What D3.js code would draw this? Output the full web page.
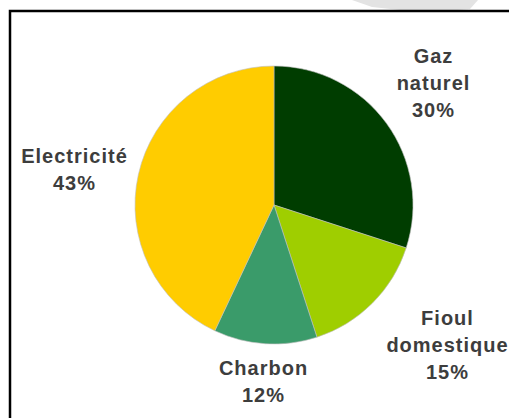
<!DOCTYPE html>
<html>
<head>
<meta charset="utf-8">
<script src="https://cdn.jsdelivr.net/npm/d3@7"></script>
<style>
body{margin:0;background:#fff;}
svg{display:block;}
</style>
</head>
<body>
<svg id="chart" width="509" height="418"></svg>
<script>
// energy mix, clockwise from 12 o'clock
var categories = ["Gaz naturel","Fioul domestique","Charbon","Electricité"];
var values = [30,15,12,43];
var colors = ["#003d00","#9fce00","#3a9b6a","#ffcc00"];
// label lines and where they sit (centre x, first baseline)
var labelLines = [["Gaz","naturel","30%"],["Fioul","domestique","15%"],["Charbon","12%"],["Electricité","43%"]];
var labelPos = [[433,63],[447,325],[263,375],[74,163]];

var svg = d3.select("#chart");

// faint grey smear at the top right
svg.append("path")
	.attr("d","M352,0 L478,0 L470,9 L446,11 L400,10 L372,7 Z")
	.attr("fill","#e3e3e3");

// frame
svg.append("path")
	.attr("d","M10,420 L10,11 L515,11")
	.attr("fill","none")
	.attr("stroke","#000")
	.attr("stroke-width",2.5);

var cx = 274, cy = 205, r = 139;

var pie = d3.pie().sort(null).value(function(d){ return d; });
var arc = d3.arc().innerRadius(0).outerRadius(r);

svg.append("g")
	.attr("transform","translate("+cx+","+cy+")")
	.selectAll("path")
	.data(pie(values))
	.enter()
	.append("path")
	.attr("d",arc)
	.attr("fill",function(d,i){ return colors[i]; })
	.attr("stroke","#bdbdbd")
	.attr("stroke-width",0.6);

var labels = svg.append("g")
	.attr("font-family","'Liberation Sans', Arial, sans-serif")
	.attr("font-weight","bold")
	.attr("font-size","20px")
	.attr("fill","#3d3d3d")
	.attr("text-anchor","middle");

for(var i=0;i<categories.length;i++){
	var t = labels.append("text")
		.attr("x",labelPos[i][0])
		.attr("y",labelPos[i][1])
		.attr("letter-spacing","1px");
	for(var j=0;j<labelLines[i].length;j++){
		t.append("tspan")
			.attr("x",labelPos[i][0]+0.5)
			.attr("dy",j==0 ? 0 : 27)
			.text(labelLines[i][j]);
	}
}
</script>
</body>
</html>
